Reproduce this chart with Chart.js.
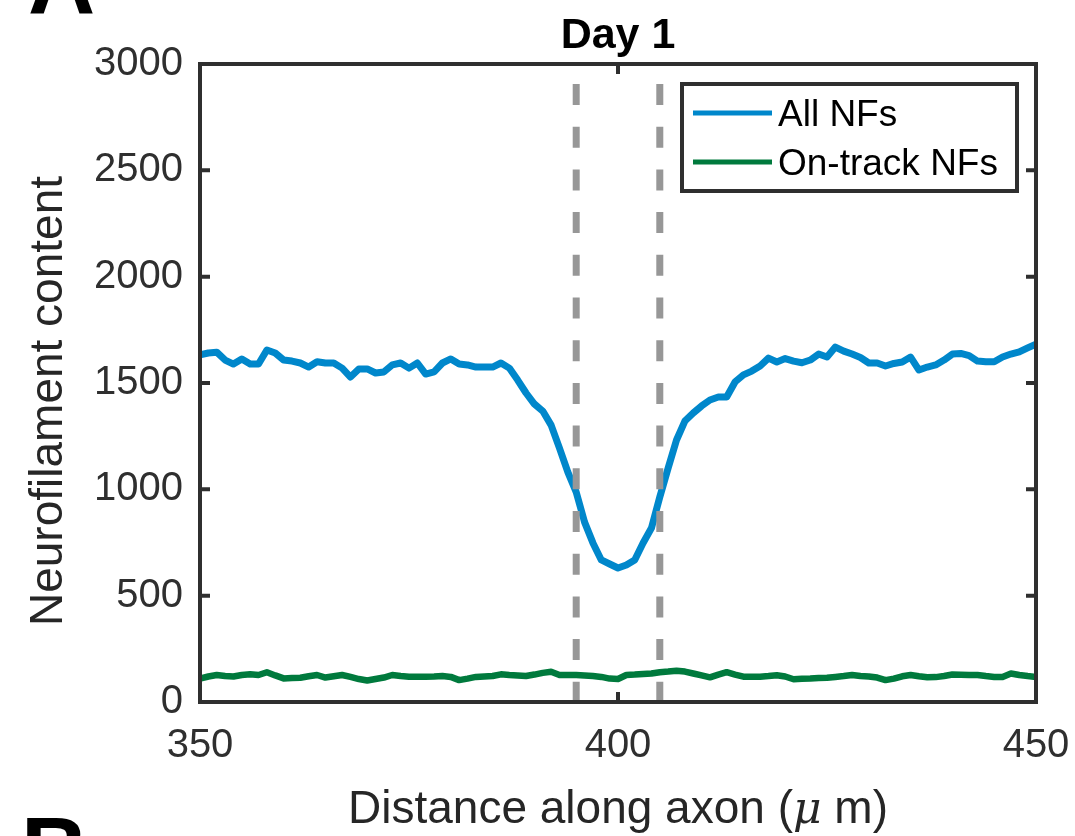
<!DOCTYPE html>
<html>
<head>
<meta charset="utf-8">
<script src="https://cdn.jsdelivr.net/npm/chart.js@4.4.1/dist/chart.umd.min.js"></script>
<style>
  html, body { margin: 0; padding: 0; background: #fff; }
  canvas { display: block; }
</style>
</head>
<body>
<canvas id="nfChart" width="1075" height="836"></canvas>
<script>
const distance = [
  350, 351, 352, 353, 354, 355, 356, 357, 358, 359,
  360, 361, 362, 363, 364, 365, 366, 367, 368, 369,
  370, 371, 372, 373, 374, 375, 376, 377, 378, 379,
  380, 381, 382, 383, 384, 385, 386, 387, 388, 389,
  390, 391, 392, 393, 394, 395, 396, 397, 398, 399,
  400, 401, 402, 403, 404, 405, 406, 407, 408, 409,
  410, 411, 412, 413, 414, 415, 416, 417, 418, 419,
  420, 421, 422, 423, 424, 425, 426, 427, 428, 429,
  430, 431, 432, 433, 434, 435, 436, 437, 438, 439,
  440, 441, 442, 443, 444, 445, 446, 447, 448, 449,
  450
];

const allNFs = [
  1632, 1641, 1645, 1608, 1589, 1613, 1589, 1589, 1655, 1641,
  1608, 1603, 1594, 1575, 1600, 1594, 1594, 1570, 1528, 1566,
  1566, 1547, 1552, 1585, 1594, 1570, 1594, 1542, 1552, 1594,
  1613, 1589, 1585, 1575, 1575, 1575, 1594, 1570, 1514, 1453,
  1401, 1368, 1302, 1194, 1081, 987, 846, 748, 668, 649,
  630, 644, 668, 748, 818, 964, 1100, 1232, 1321, 1359,
  1392, 1420, 1434, 1434, 1505, 1538, 1556, 1580, 1617, 1599,
  1615, 1603, 1595, 1608, 1636, 1622, 1669, 1650, 1636, 1620,
  1594, 1594, 1580, 1592, 1599, 1622, 1561, 1575, 1585, 1608,
  1636, 1639, 1629, 1603, 1600, 1600, 1622, 1636, 1646, 1665,
  1683
];

const onTrackNFs = [
  110, 120, 127, 122, 120, 127, 130, 127, 140, 125,
  111, 113, 114, 121, 127, 115, 121, 127, 118, 108,
  101, 108, 115, 127, 122, 119, 119, 119, 120, 122,
  118, 103, 110, 118, 120, 122, 130, 127, 125, 122,
  129, 137, 142, 127, 127, 127, 125, 122, 118, 110,
  108, 127, 129, 132, 134, 140, 143, 147, 143, 134,
  125, 116, 129, 140, 129, 119, 119, 119, 122, 126,
  120, 107, 109, 110, 113, 114, 118, 122, 127, 122,
  120, 115, 103, 110, 121, 127, 121, 116, 117, 122,
  129, 128, 127, 127, 122, 118, 118, 134, 127, 122,
  118
];

const injuryEdges = [395, 405];
const xTicks = [350, 400, 450];
const yTicks = [0, 500, 1000, 1500, 2000, 2500, 3000];

const FONT = '"Liberation Sans", Arial, Helvetica, sans-serif';
const AXIS_COLOR = '#2f2f2f';
const BLUE = '#0087cb';
const GREEN = '#007a3d';
const DASH_GRAY = '#979797';

const toPoints = (ys) => distance.map((d, i) => ({ x: d, y: ys[i] }));
const edgeLine = (xv) => [{ x: xv, y: yTicks[yTicks.length - 1] }, { x: xv, y: yTicks[0] }];

// box, inward ticks, legend, titles (MATLAB look)
const frame = {
  id: 'frame',
  afterDatasetsDraw(chart) {
    const { ctx, chartArea: a, scales } = chart;
    const x = scales.x, y = scales.y;
    ctx.save();
    ctx.strokeStyle = AXIS_COLOR;
    ctx.lineWidth = 4;
    ctx.beginPath();
    yTicks.forEach(v => {
      const py = y.getPixelForValue(v);
      ctx.moveTo(a.left, py); ctx.lineTo(a.left + 10, py);
      ctx.moveTo(a.right, py); ctx.lineTo(a.right - 10, py);
    });
    xTicks.forEach(v => {
      const px = x.getPixelForValue(v);
      ctx.moveTo(px, a.bottom); ctx.lineTo(px, a.bottom - 10);
      ctx.moveTo(px, a.top); ctx.lineTo(px, a.top + 10);
    });
    ctx.stroke();
    ctx.lineJoin = 'miter';
    ctx.strokeRect(a.left, a.top, a.right - a.left, a.bottom - a.top);

    // legend
    const lx = a.right - 354, ly = a.top + 20, lw = 335, lh = 107;
    ctx.fillStyle = '#fff';
    ctx.fillRect(lx, ly, lw, lh);
    ctx.strokeRect(lx, ly, lw, lh);
    const items = chart.data.datasets.filter(d => d.inLegend);
    ctx.font = '37px ' + FONT;
    ctx.textBaseline = 'alphabetic';
    ctx.textAlign = 'left';
    items.forEach((d, i) => {
      const rowY = ly + 29 + i * 49;
      ctx.strokeStyle = d.borderColor;
      ctx.lineWidth = 5;
      ctx.beginPath();
      ctx.moveTo(lx + 11, rowY); ctx.lineTo(lx + 90, rowY);
      ctx.stroke();
      ctx.fillStyle = '#000';
      ctx.fillText(d.label, lx + 96, rowY + 13);
    });
    ctx.restore();
  },
  afterDraw(chart) {
    const { ctx, chartArea: a } = chart;
    const cx = (a.left + a.right) / 2;
    ctx.save();
    ctx.fillStyle = '#000';
    ctx.textAlign = 'center';
    ctx.textBaseline = 'alphabetic';
    ctx.font = 'bold 43px ' + FONT;
    ctx.fillText('Day 1', cx, 48);

    // panel letters (cut by the figure edge)
    ctx.textAlign = 'left';
    ctx.font = 'bold 93px ' + FONT;
    ctx.fillText('A', 28, 13);
    ctx.fillText('B', 21, 882);

    // y axis title
    ctx.fillStyle = '#262626';
    ctx.font = '46px ' + FONT;
    ctx.save();
    ctx.translate(62, 401);
    ctx.rotate(-Math.PI / 2);
    ctx.textAlign = 'center';
    ctx.fillText('Neurofilament content', 0, 0);
    ctx.restore();

    // x axis title with italic mu
    const parts = [
      { t: 'Distance along axon (', f: '46px ' + FONT },
      { t: '\u03bc', f: 'italic 44px "DejaVu Serif", serif' },
      { t: ' m)', f: '46px ' + FONT }
    ];
    let total = 0;
    parts.forEach(p => { ctx.font = p.f; p.w = ctx.measureText(p.t).width; total += p.w; });
    let px = cx - total / 2;
    ctx.textAlign = 'left';
    parts.forEach(p => { ctx.font = p.f; ctx.fillText(p.t, px, 823); px += p.w; });
    ctx.restore();
  }
};

new Chart(document.getElementById('nfChart'), {
  type: 'line',
  data: {
    datasets: [
      {
        label: 'edge1', data: edgeLine(injuryEdges[0]),
        borderColor: DASH_GRAY, borderWidth: 7,
        borderDash: [21, 21.7], borderDashOffset: 22.7, borderCapStyle: 'butt'
      },
      {
        label: 'edge2', data: edgeLine(injuryEdges[1]),
        borderColor: DASH_GRAY, borderWidth: 7,
        borderDash: [21, 21.7], borderDashOffset: 22.7, borderCapStyle: 'butt'
      },
      {
        label: 'All NFs', data: toPoints(allNFs), inLegend: true,
        borderColor: BLUE, borderWidth: 7, borderJoinStyle: 'round'
      },
      {
        label: 'On-track NFs', data: toPoints(onTrackNFs), inLegend: true,
        borderColor: GREEN, borderWidth: 6.5, borderJoinStyle: 'round'
      }
    ]
  },
  options: {
    responsive: false,
    animation: false,
    events: [],
    elements: { point: { radius: 0 }, line: { tension: 0 } },
    layout: { padding: { left: 0, top: 64, right: 39, bottom: 0 } },
    plugins: { legend: { display: false }, tooltip: { enabled: false }, title: { display: false } },
    scales: {
      x: {
        type: 'linear', min: 350, max: 450,
        afterFit: s => { s.height = 134; s.paddingLeft = 0; s.paddingRight = 0; },
        afterBuildTicks: s => { s.ticks = xTicks.map(v => ({ value: v })); },
        grid: { display: false, drawTicks: false },
        border: { display: false },
        ticks: { color: AXIS_COLOR, font: { family: FONT, size: 40 }, padding: 20, maxRotation: 0, autoSkip: false,
                 callback: v => String(v) }
      },
      y: {
        type: 'linear', min: 0, max: 3000,
        afterFit: s => { s.width = 200; s.paddingTop = 0; s.paddingBottom = 0; },
        afterBuildTicks: s => { s.ticks = yTicks.map(v => ({ value: v })); },
        grid: { display: false, drawTicks: false },
        border: { display: false },
        ticks: { color: AXIS_COLOR, font: { family: FONT, size: 40 }, padding: 17,
                 callback: v => String(v) }
      }
    }
  },
  plugins: [frame]
});
</script>
</body>
</html>
